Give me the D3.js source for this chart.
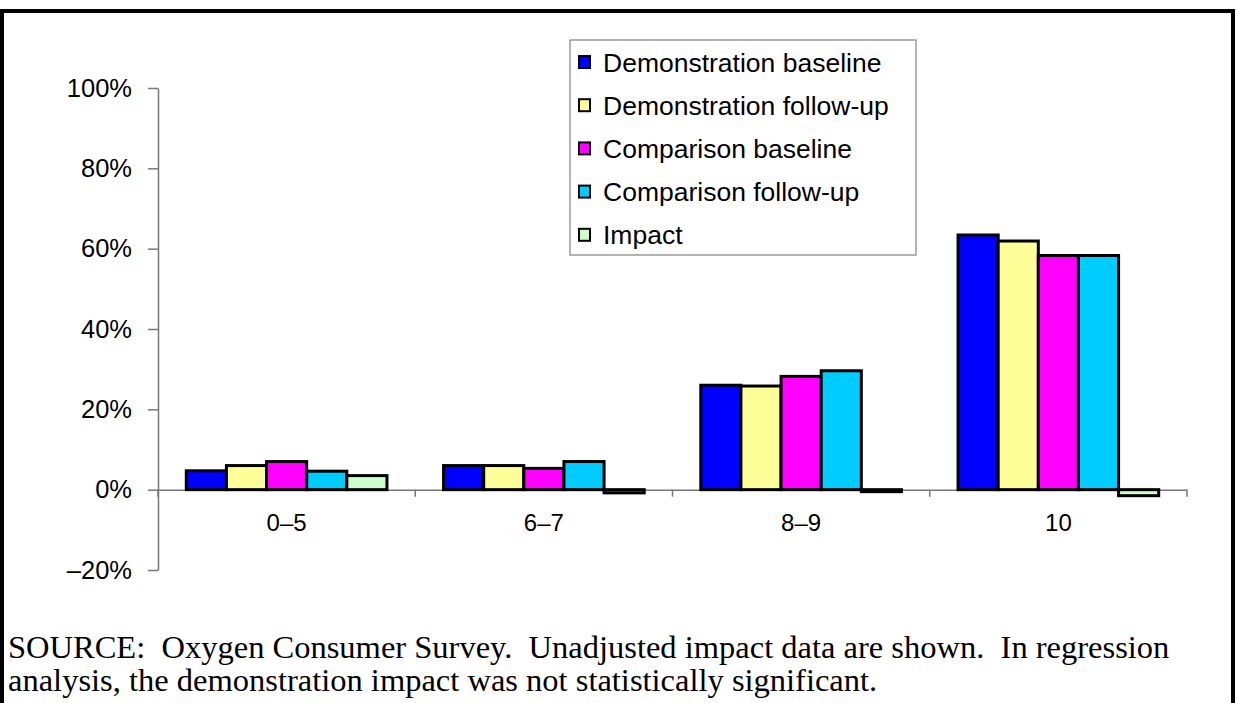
<!DOCTYPE html>
<html>
<head>
<meta charset="utf-8">
<script src="https://cdn.jsdelivr.net/npm/d3@7"></script>
<style>
  html, body { margin: 0; padding: 0; background: #fff; }
  svg { display: block; }
</style>
</head>
<body>
<svg id="chart" width="1236" height="703"></svg>
<script>
// Score groups on the x axis
const categories = ["0\u20135", "6\u20137", "8\u20139", "10"];

// Series shown in each group (percent of respondents)
const seriesNames = [
  "Demonstration baseline",
  "Demonstration follow-up",
  "Comparison baseline",
  "Comparison follow-up",
  "Impact"
];
const demoBaseline = [4.7, 6.0, 26.0, 63.4];
const demoFollowUp = [6.0, 6.0, 25.8, 61.9];
const compBaseline = [7.0, 5.3, 28.2, 58.3];
const compFollowUp = [4.6, 7.0, 29.6, 58.3];
const impact = [3.5, -0.8, -0.5, -1.5];

const seriesColors = ["#0000ff", "#ffff99", "#ff00ff", "#00ccff", "#ccffcc"];

// Y axis ticks
const yTicks = [-20, 0, 20, 40, 60, 80, 100];
const yTickLabels = ["\u201320%", "0%", "20%", "40%", "60%", "80%", "100%"];

const sourceLines = [
  "SOURCE:\u00a0\u00a0Oxygen Consumer Survey.\u00a0\u00a0Unadjusted impact data are shown.\u00a0\u00a0In regression",
  "analysis, the demonstration impact was not statistically significant."
];

const seriesValues = [demoBaseline, demoFollowUp, compBaseline, compFollowUp, impact];

const svg = d3.select("#chart");
const sans = "'Liberation Sans', Arial, sans-serif";
const serif = "'Liberation Serif', 'Times New Roman', serif";

// Outer frame (open at the bottom)
svg.append("path")
  .attr("d", "M2,703 L2,11 L1233,11 L1233,703")
  .attr("fill", "none")
  .attr("stroke", "#000")
  .attr("stroke-width", 4);

// Scales
const y = d3.scaleLinear().domain([-20, 100]).range([570, 88]);
const x0 = d3.scaleBand().domain(categories).range([158, 1187])
  .paddingInner(0.22).paddingOuter(0.11);
const x1 = d3.scaleBand().domain(seriesNames).range([0, x0.bandwidth()]);

const axisColor = "#777";

// Y axis
const yAxis = d3.axisLeft(y)
  .tickValues(yTicks)
  .tickSize(10)
  .tickSizeOuter(0)
  .tickPadding(16)
  .tickFormat(d => yTickLabels[yTicks.indexOf(d)]);

const gy = svg.append("g")
  .attr("transform", "translate(158,0)")
  .call(yAxis);
gy.attr("font-size", null).attr("font-family", null);
gy.select(".domain").attr("stroke", axisColor).attr("stroke-width", 1.5);
gy.selectAll(".tick line").attr("stroke", axisColor).attr("stroke-width", 1.5);
gy.selectAll(".tick text")
  .attr("font-family", sans)
  .attr("font-size", 25.5)
  .attr("fill", "#000");

// X axis along zero, with tick marks at group boundaries
const x0Axis = d3.axisBottom(x0).tickSize(0).tickSizeOuter(0).tickPadding(24);
const gx = svg.append("g")
  .attr("transform", `translate(0,${y(0)})`)
  .call(x0Axis);
gx.attr("font-size", null).attr("font-family", null);
gx.select(".domain").attr("stroke", axisColor).attr("stroke-width", 1.5);
gx.selectAll(".tick text")
  .attr("font-family", sans)
  .attr("font-size", 24)
  .attr("fill", "#000");

const half = x0.step() * x0.paddingInner() / 2;
const boundaries = categories.map(c => x0(c) - half)
  .concat([x0(categories[categories.length - 1]) + x0.bandwidth() + half]);
gx.selectAll(".bound")
  .data(boundaries)
  .join("line")
  .attr("class", "bound")
  .attr("x1", d => d).attr("x2", d => d)
  .attr("y1", 0).attr("y2", 7)
  .attr("stroke", axisColor)
  .attr("stroke-width", 1.5);

// Bars
const groups = svg.append("g").selectAll("g")
  .data(categories)
  .join("g")
  .attr("transform", c => `translate(${x0(c)},0)`);

groups.selectAll("rect")
  .data((c, ci) => seriesNames.map((s, si) => ({ s, si, v: seriesValues[si][ci] })))
  .join("rect")
  .attr("x", d => x1(d.s))
  .attr("width", x1.bandwidth())
  .attr("y", d => Math.min(y(d.v), y(0)))
  .attr("height", d => Math.abs(y(d.v) - y(0)))
  .attr("fill", d => seriesColors[d.si])
  .attr("stroke", "#000")
  .attr("stroke-width", 3);

// Legend
const legend = svg.append("g").attr("transform", "translate(570,40)");
legend.append("rect")
  .attr("x", 0).attr("y", 0)
  .attr("width", 346).attr("height", 215)
  .attr("fill", "#fff")
  .attr("stroke", "#808080")
  .attr("stroke-width", 1.2);

const items = legend.selectAll(".item")
  .data(seriesNames)
  .join("g")
  .attr("class", "item")
  .attr("transform", (d, i) => `translate(0,${22 + i * 43.2})`);
items.append("rect")
  .attr("x", 9).attr("y", -6)
  .attr("width", 11).attr("height", 12)
  .attr("fill", (d, i) => seriesColors[i])
  .attr("stroke", "#000")
  .attr("stroke-width", 2);
items.append("text")
  .attr("x", 33).attr("y", 0)
  .attr("dy", "0.36em")
  .attr("font-family", sans)
  .attr("font-size", 26.5)
  .attr("fill", "#000")
  .text(d => d);

// Source note
svg.append("g").selectAll("text")
  .data(sourceLines)
  .join("text")
  .attr("x", 8)
  .attr("y", (d, i) => 658 + i * 33)
  .attr("font-family", serif)
  .attr("font-size", 32.5)
  .attr("fill", "#000")
  .text(d => d);
</script>
</body>
</html>
